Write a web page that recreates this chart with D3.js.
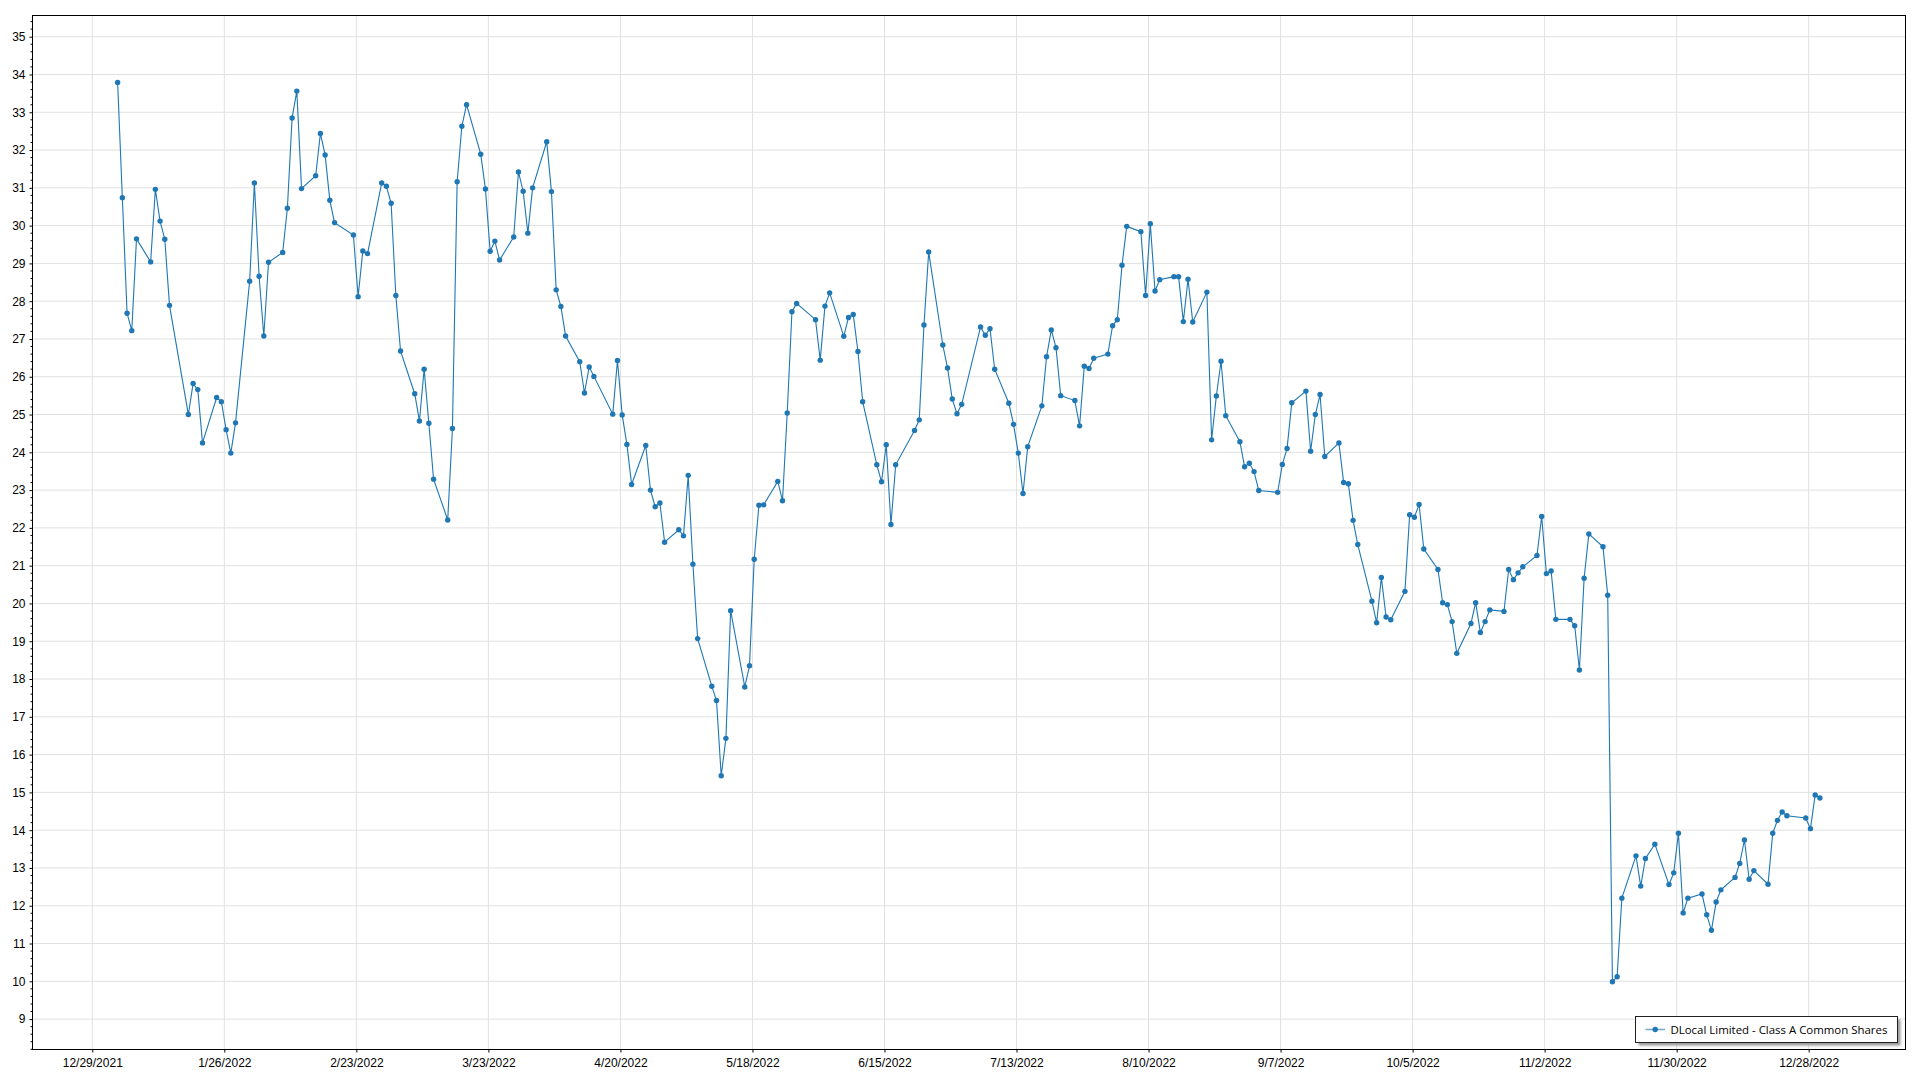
<!DOCTYPE html>
<html><head><meta charset="utf-8">
<script src="https://cdn.jsdelivr.net/npm/d3@7"></script>
<style>
html,body{margin:0;padding:0;background:#fff;overflow:hidden;}
svg{display:block;font-family:"Segoe UI","Open Sans","Noto Sans",sans-serif;}
</style></head><body>
<svg id="chart" width="1920" height="1080"></svg>
<script>
// ---------------- data ----------------
const seriesName = "DLocal Limited - Class A Common Shares";
const year = 2022;
// trading days of each month (1..12)
const tradingDays = [
  [3,4,5,6,7,10,11,12,13,14,18,19,20,21,24,25,26,27,28,31],
  [1,2,3,4,7,8,9,10,11,14,15,16,17,18,22,23,24,25,28],
  [1,2,3,4,7,8,9,10,11,14,15,16,17,18,21,22,23,24,25,28,29,30,31],
  [1,4,5,6,7,8,11,12,13,14,18,19,20,21,22,25,26,27,28,29],
  [2,3,4,5,6,9,10,11,12,13,16,17,18,19,20,23,24,25,26,27,31],
  [1,2,3,6,7,8,9,10,13,14,15,16,17,21,22,23,24,27,28,29,30],
  [1,5,6,7,8,11,12,13,14,15,18,19,20,21,22,25,26,27,28,29],
  [1,2,3,4,5,8,9,10,11,12,15,16,17,18,19,22,23,24,25,26,29,30,31],
  [1,2,6,7,8,9,12,13,14,15,16,19,20,21,22,23,26,27,28,29,30],
  [3,4,5,6,7,10,11,12,13,14,17,18,19,20,21,24,25,26,27,28,31],
  [1,2,3,4,7,8,9,10,11,14,15,16,17,18,21,22,23,25,28,29,30],
  [1,2,5,6,7,8,9,12,13,14,15,16,19,20,21,22,23,27,28,29,30]
];
// closing prices, same layout as tradingDays
const prices = [
  [33.79,30.74,27.68,27.22,29.65,29.04,30.96,30.12,29.64,27.89,25.00,25.82,25.66,24.25,25.45,25.34,24.60,23.98,24.78,28.53],
  [31.13,28.66,27.08,29.03,29.29,30.46,32.85,33.56,30.98,31.32,32.44,31.87,30.67,30.08,29.75,28.12,29.33,29.26,31.13],
  [31.04,30.59,28.15,26.68,25.55,24.83,26.20,24.77,23.29,22.21,24.63,31.16,32.63,33.20,31.89,30.97,29.32,29.59,29.09,29.70,31.42,30.91,29.80],
  [31.00,32.22,30.90,28.30,27.86,27.08,26.40,25.57,26.26,26.01,25.01,26.43,24.99,24.21,23.15,24.18,23.00,22.56,22.66,21.62],
  [21.95,21.79,23.39,21.04,19.07,17.81,17.43,15.44,16.43,19.81,17.79,18.35,21.17,22.60,22.61,23.23,22.72,25.04,27.72,27.94,27.51],
  [26.44,27.87,28.22,27.07,27.57,27.65,26.67,25.34,23.67,23.22,24.20,22.09,23.67,24.58,24.86,27.37,29.30,26.84,26.23,25.41,25.02],
  [25.27,27.32,27.10,27.27,26.20,25.30,24.74,23.98,22.91,24.15,25.23,26.53,27.24,26.77,25.50,25.37,24.70,26.28,26.22,26.49],
  [26.60,27.35,27.51,28.95,29.98,29.84,28.15,30.05,28.27,28.57,28.65,28.65,27.46,28.58,27.45,28.24,24.33,25.49,26.41,24.97,24.28,23.62,23.71],
  [23.49,22.99,22.94,23.68,24.10,25.31,25.62,24.03,25.00,25.53,23.89,24.25,23.20,23.17,22.20,21.56,20.06,19.49,20.69,19.64,19.57],
  [20.32,22.35,22.28,22.62,21.44,20.90,20.02,19.97,19.52,18.68,19.47,20.02,19.23,19.52,19.83,19.79,20.90,20.63,20.81,20.97,21.27],
  [22.30,20.79,20.86,19.58,19.58,19.41,18.24,20.67,21.84,21.50,20.22,9.99,10.12,12.20,13.32,12.52,13.25,13.63,12.56,12.87,13.92],
  [11.81,12.20,12.31,11.76,11.35,12.10,12.42,12.75,13.12,13.74,12.70,12.93,12.57,13.92,14.26,14.48,14.38,14.32,14.04,14.93,14.85]
];
const xTickLabels = ["12/29/2021","1/26/2022","2/23/2022","3/23/2022","4/20/2022","5/18/2022","6/15/2022",
  "7/13/2022","8/10/2022","9/7/2022","10/5/2022","11/2/2022","11/30/2022","12/28/2022"];
const yTickValues = [9,10,11,12,13,14,15,16,17,18,19,20,21,22,23,24,25,26,27,28,29,30,31,32,33,34,35];

// ---------------- build ----------------
const DAY = 864e5;
const parseMDY = s => { const [m,d,y] = s.split("/").map(Number); return new Date(Date.UTC(y, m-1, d)); };
const sampleOffset = 9 * 36e5; // sample time within the day
const data = [];
tradingDays.forEach((days, mi) => days.forEach((d, i) => {
  data.push({ date: new Date(Date.UTC(year, mi, d) + sampleOffset), value: prices[mi][i] });
}));
const xTicks = xTickLabels.map(parseMDY);

const W = 1920, H = 1080;
const plot = { left: 32.5, top: 15.5, right: 1905.5, bottom: 1049.5 };
const color = "#1f77b4";

const x = d3.scaleUtc()
  .domain([new Date(xTicks[0].getTime() - 12.68*DAY), new Date(xTicks[xTicks.length-1].getTime() + 20.53*DAY)])
  .range([plot.left, plot.right]);
const y = d3.scaleLinear().domain([8.195, 35.561]).range([plot.bottom, plot.top]);

const svg = d3.select("#chart");
svg.append("rect").attr("width", W).attr("height", H).attr("fill", "#fff");

// gridlines
const grid = svg.append("g").attr("stroke", "#e1e1e1").attr("stroke-width", 1);
grid.selectAll("line.gy").data(yTickValues).join("line")
  .attr("x1", plot.left).attr("x2", plot.right)
  .attr("y1", d => y(d)).attr("y2", d => y(d));
grid.selectAll("line.gx").data(xTicks).join("line")
  .attr("y1", plot.top).attr("y2", plot.bottom)
  .attr("x1", d => x(d)).attr("x2", d => x(d));

// y axis (left) with minor ticks
const yMinor = d3.range(41, 178).map(i => i/5).filter(v => Math.abs(v - Math.round(v)) > 1e-6 && y(v) >= plot.top && y(v) <= plot.bottom);
const yAxis = d3.axisLeft(y).tickValues(yTickValues).tickSize(3).tickPadding(4).tickFormat(d3.format("d"));
const gy = svg.append("g").attr("transform", `translate(${plot.left},0)`).call(yAxis);
gy.select(".domain").remove();
gy.selectAll("text").attr("font-size", 12).attr("fill", "#000").attr("font-family", null);
gy.selectAll(".tick line").attr("stroke", "#000");
svg.append("g").attr("stroke", "#000").selectAll("line").data(yMinor).join("line")
  .attr("x1", plot.left - 2).attr("x2", plot.left)
  .attr("y1", d => y(d)).attr("y2", d => y(d));

// x axis (bottom)
const xAxis = d3.axisBottom(x).tickValues(xTicks).tickSize(3).tickPadding(6)
  .tickFormat(d => xTickLabels[xTicks.findIndex(t => t.getTime() === d.getTime())]);
const gx = svg.append("g").attr("transform", `translate(0,${plot.bottom})`).call(xAxis);
gx.select(".domain").remove();
gx.selectAll("text").attr("font-size", 12).attr("fill", "#000").attr("font-family", null);
gx.selectAll(".tick line").attr("stroke", "#000");

// frame
svg.append("rect").attr("x", plot.left).attr("y", plot.top)
  .attr("width", plot.right - plot.left).attr("height", plot.bottom - plot.top)
  .attr("fill", "none").attr("stroke", "#000").attr("stroke-width", 1);

// series
const line = d3.line().x(d => x(d.date)).y(d => y(d.value));
svg.append("path").datum(data).attr("d", line)
  .attr("fill", "none").attr("stroke", color).attr("stroke-width", 1.1);
svg.append("g").attr("fill", color).selectAll("circle").data(data).join("circle")
  .attr("cx", d => x(d.date)).attr("cy", d => y(d.value)).attr("r", 2.7);

// legend
const lg = { x: 1635.5, y: 1016.5, w: 262, h: 26 };
const defs = svg.append("defs");
const f = defs.append("filter").attr("id", "sh").attr("x", "-10%").attr("y", "-50%").attr("width", "120%").attr("height", "200%");
f.append("feGaussianBlur").attr("stdDeviation", 1.2);
svg.append("rect").attr("x", lg.x + 3).attr("y", lg.y + 3).attr("width", lg.w).attr("height", lg.h)
  .attr("fill", "#9a9a9a").attr("filter", "url(#sh)");
svg.append("rect").attr("x", lg.x).attr("y", lg.y).attr("width", lg.w).attr("height", lg.h)
  .attr("fill", "#fff").attr("stroke", "#222").attr("stroke-width", 1);
const cy = lg.y + lg.h/2;
svg.append("line").attr("x1", lg.x + 10).attr("x2", lg.x + 29.5).attr("y1", cy).attr("y2", cy)
  .attr("stroke", color).attr("stroke-opacity", 0.6).attr("stroke-width", 1.6);
svg.append("circle").attr("cx", lg.x + 19.7).attr("cy", cy).attr("r", 2.7).attr("fill", color);
const lt = svg.append("text").attr("x", lg.x + 35).attr("y", cy).attr("dy", "0.35em")
  .attr("font-size", 12).attr("fill", "#000").text(seriesName);
const targetW = 217;
const curW = lt.node().getComputedTextLength();
if (curW > 0) lt.attr("font-size", (12 * targetW / curW).toFixed(2));
</script>
</body></html>
